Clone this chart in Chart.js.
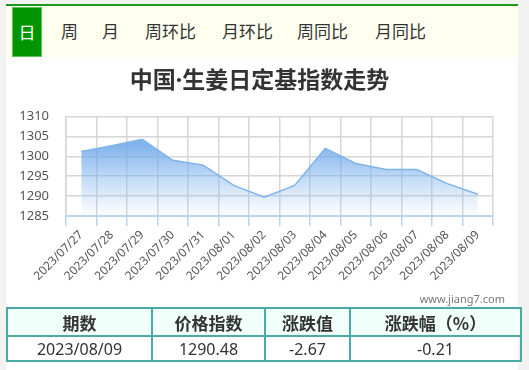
<!doctype html>
<html lang="zh-CN">

<head>
    <meta charset="utf-8">
    <meta name="viewport" content="width=device-width, initial-scale=1">
    <script src="https://cdn.jsdelivr.net/npm/chart.js@4.4.0/dist/chart.umd.min.js"></script>
    <title>中国·生姜日定基指数走势</title>
    <style>
        body {
            margin: 0;
            width: 529px;
            height: 370px;
            background: #f2f2f2;
            font-family: "Noto Sans CJK SC", "Noto Sans", sans-serif;
            color: #333;
            position: relative;
            overflow: hidden;
        }

        .panel {
            position: absolute;
            left: 6px;
            top: 4px;
            width: 512px;
            height: 366px;
            background: #fff;
            border-top: 2px solid #1a9a1a;
        }

        .tabs {
            position: absolute;
            left: 0;
            top: 0;
            width: 512px;
            height: 51px;
            background: #fffff0;
        }

        .tabs span {
            position: absolute;
            top: 14px;
            font-size: 17px;
            line-height: 22px;
            color: #333;
        }

        .tabs .on {
            left: 6px;
            top: 1px;
            width: 28px;
            height: 48px;
            line-height: 48px;
            text-align: center;
            background: #009400;
            border: 1px solid #5cc45c;
            color: #fff;
        }

        .chartBox {
            position: absolute;
            left: 0;
            top: 51px;
            width: 512px;
            height: 240px;
        }

        .mark {
            position: absolute;
            right: 13px;
            top: 285px;
            font-size: 11px;
            color: #777;
            font-family: "Noto Sans", sans-serif;
        }

        table {
            position: absolute;
            left: 6px;
            top: 307px;
            width: 514px;
            border-collapse: collapse;
            table-layout: fixed;
        }

        td,
        th {
            border: 2px solid #4aaba4;
            text-align: center;
            padding: 0;
        }

        th {
            background: #f0fffa;
            height: 26px;
            font-size: 17px;
            font-weight: bold;
        }

        td {
            height: 23px;
            font-size: 16px;
            font-family: "Noto Sans", sans-serif;
        }
    </style>
</head>

<body>
    <div class="panel">
        <div class="tabs">
            <span class="on">日</span>
            <span style="left:55px">周</span>
            <span style="left:96px">月</span>
            <span style="left:139px">周环比</span>
            <span style="left:216px">月环比</span>
            <span style="left:291px">周同比</span>
            <span style="left:369px">月同比</span>
        </div>
        <div class="chartBox">
            <canvas id="myChart"></canvas>
        </div>
        <div class="mark">www.jiang7.com</div>
    </div>

    <table>
        <colgroup>
            <col style="width:145px">
            <col style="width:113px">
            <col style="width:85px">
            <col style="width:171px">
        </colgroup>
        <tr>
            <th>期数</th>
            <th>价格指数</th>
            <th>涨跌值</th>
            <th>涨跌幅（%）</th>
        </tr>
        <tr>
            <td>2023/08/09</td>
            <td>1290.48</td>
            <td>-2.67</td>
            <td>-0.21</td>
        </tr>
    </table>

    <script type="text/javascript">
        // values
        var labels = ['2023/07/27', '2023/07/28', '2023/07/29', '2023/07/30', '2023/07/31', '2023/08/01', '2023/08/02',
            '2023/08/03', '2023/08/04', '2023/08/05', '2023/08/06', '2023/08/07', '2023/08/08', '2023/08/09'];
        var indexValues = [1301.2, 1302.7, 1304.3, 1299.0, 1297.8, 1292.7, 1289.7,
            1292.7, 1302.0, 1298.2, 1296.7, 1296.7, 1293.15, 1290.48];
        var yTicks = [1285, 1290, 1295, 1300, 1305, 1310];

        function areaFill(context) {
            var area = context.chart.chartArea;
            if (!area) {
                return 'rgba(110,168,232,0.6)';
            }
            var g = context.chart.ctx.createLinearGradient(0, area.top, 0, area.bottom);
            g.addColorStop(0, 'rgba(100,160,232,0.95)');
            g.addColorStop(0.3, 'rgba(110,168,234,0.85)');
            g.addColorStop(1, 'rgba(140,188,240,0.02)');
            return g;
        }

        var ctx = document.getElementById('myChart');
        var chart = new Chart(ctx, {
            type: 'line',
            data: {
                labels: labels,
                datasets: [{
                    label: '定基指数',
                    data: indexValues,
                    borderColor: '#7fb3ea',
                    borderWidth: 1.5,
                    backgroundColor: areaFill,
                    fill: 'start',
                    pointRadius: 0,
                    tension: 0,
                }],
            },
            options: {
                responsive: true,
                maintainAspectRatio: false,
                animation: false,
                layout: {
                    padding: { left: 0, right: 5, top: 0, bottom: 0 }
                },
                plugins: {
                    legend: { display: false },
                    tooltip: { enabled: false },
                    title: {
                        display: true,
                        text: '中国·生姜日定基指数走势',
                        color: '#333',
                        font: { family: '"Noto Sans", "Noto Sans CJK SC"', size: 23, weight: 'bold' },
                        padding: { top: 11, bottom: 21 }
                    }
                },
                scales: {
                    x: {
                        offset: true,
                        afterFit: function (scale) { scale.height = 81; },
                        grid: {
                            offset: true,
                            color: '#d6d6d6',
                            lineWidth: 1.5,
                            tickLength: 10,
                            tickColor: '#bcd3ee',
                        },
                        border: { color: '#bcd3ee', width: 2 },
                        ticks: {
                            autoSkip: false,
                            maxRotation: 45,
                            minRotation: 45,
                            padding: 2,
                            color: '#555',
                            font: { family: '"Noto Sans"', size: 12 }
                        }
                    },
                    y: {
                        min: 1285,
                        max: 1310,
                        afterFit: function (scale) { scale.width = 60; },
                        afterBuildTicks: function (scale) {
                            scale.ticks = yTicks.map(function (v) { return { value: v }; });
                        },
                        grid: {
                            color: '#d6d6d6',
                            lineWidth: 1.5,
                            drawTicks: false,
                        },
                        border: { color: '#d6d6d6', width: 1.5 },
                        ticks: {
                            padding: 17,
                            color: '#555',
                            font: { family: '"Noto Sans"', size: 13 },
                            callback: function (value) { return String(value); }
                        }
                    },
                    // empty right gutter so the title centres like the original
                    gutter: {
                        type: 'linear',
                        position: 'right',
                        afterFit: function (scale) { scale.width = 20; },
                        grid: { display: false },
                        border: { display: false },
                        ticks: { display: false }
                    }
                }
            }
        });
    </script>
</body>

</html>
